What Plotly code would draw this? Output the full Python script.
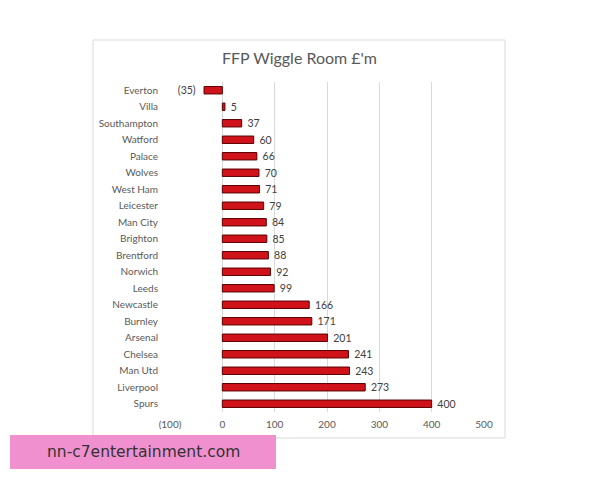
import plotly.graph_objects as go

teams = ["Everton", "Villa", "Southampton", "Watford", "Palace", "Wolves", "West Ham",
         "Leicester", "Man City", "Brighton", "Brentford", "Norwich", "Leeds", "Newcastle",
         "Burnley", "Arsenal", "Chelsea", "Man Utd", "Liverpool", "Spurs"]
room = [-35, 5, 37, 60, 66, 70, 71, 79, 84, 85, 88, 92, 99, 166, 171, 201, 241, 243, 273, 400]

tick_vals = [-100, 0, 100, 200, 300, 400, 500]
tick_text = ["(100)", "0", "100", "200", "300", "400", "500"]

# excel style labels, negatives in brackets, a little padding from the bar
labels = ["(%d)\u00a0\u00a0" % abs(v) if v < 0 else "\u00a0" + str(v) for v in room]

# page has an 8px body margin, so work in screen pixels and shift
OFF = 8
L, R, T, B = 170 - OFF, 484 - OFF, 82 - OFF, 412 - OFF
W, H = 600, 480


def px(x, y):
    return (x - OFF - L) / (R - L), (B - (y - OFF)) / (B - T)


fig = go.Figure()
fig.add_trace(go.Bar(
    x=room, y=teams, orientation="h",
    marker=dict(color="#d0121b", line=dict(color="#5a0000", width=1)),
    width=0.45,
    text=labels, textposition="outside", constraintext="none",
    textfont=dict(size=10.5, color="#404040"),
    cliponaxis=False,
))

x0, y0 = px(93, 40)
x1, y1 = px(505, 438)
fig.add_shape(type="rect", xref="paper", yref="paper", x0=x0, y0=y0, x1=x1, y1=y1,
              line=dict(color="#d9d9d9", width=1), layer="below")

# pink banner
bx0, by0 = px(10, 435)
bx1, by1 = px(276, 469)
fig.add_shape(type="rect", xref="paper", yref="paper", x0=bx0, y0=by0, x1=bx1, y1=by1,
              fillcolor="#f190cf", line=dict(width=0), layer="above")
tx, ty = px(143, 452)
fig.add_annotation(x=tx, y=ty, xref="paper", yref="paper", text="nn-c7entertainment.com",
                   xanchor="center", yanchor="middle", showarrow=False,
                   font=dict(size=15.5, color="#333333", family="DejaVu Sans"))

ttx, tty = px(299, 58)
fig.add_annotation(x=ttx, y=tty, xref="paper", yref="paper", text="FFP Wiggle Room £'m",
                   xanchor="center", yanchor="middle", showarrow=False,
                   font=dict(size=16, color="#595959", family="Lato"))

fig.update_layout(
    width=W, height=H,
    margin=dict(l=L, r=W - R, t=T, b=H - B),
    paper_bgcolor="white", plot_bgcolor="white",
    showlegend=False,
    font=dict(family="Lato", color="#595959", size=10),
    xaxis=dict(range=[-100, 500], tickvals=tick_vals, ticktext=tick_text,
               showgrid=True, gridcolor="#d9d9d9", zeroline=False,
               showline=False, ticks="", ticklabelstandoff=5,
               tickfont=dict(size=10, color="#595959")),
    yaxis=dict(autorange="reversed", showgrid=False, showline=False, ticks="",
               ticklabelstandoff=11, tickfont=dict(size=10, color="#595959")),
)

fig.write_html("out.html")
